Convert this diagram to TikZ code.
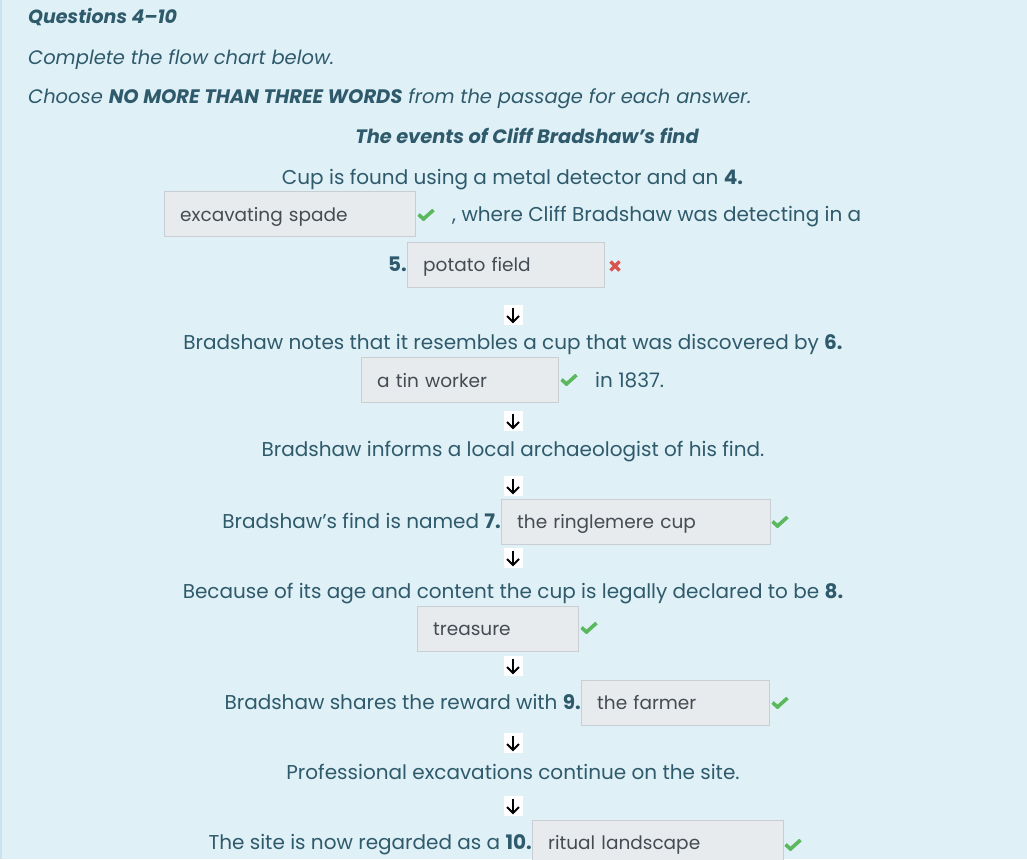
\documentclass[tikz,border=0pt]{standalone}
\usepackage{fontspec}
\setmainfont{Poppins}
\definecolor{bg}{HTML}{DFF0F7}
\definecolor{edge}{HTML}{CBE3EE}
\definecolor{ink}{HTML}{2E5A6B}
\definecolor{boxfill}{HTML}{E8EBEE}
\definecolor{boxline}{HTML}{C9CED3}
\definecolor{anscol}{HTML}{454B52}
\definecolor{okgreen}{HTML}{5CB85C}
\definecolor{badred}{HTML}{D9534F}
\def\ppb{path picture bounding box.center}
\tikzset{
  txt/.style={text=ink, inner sep=0pt, text height=16pt, text depth=2pt,
    font=\fontsize{20}{24}\selectfont},
  head/.style={txt, anchor=west, font=\fontsize{19.5}{24}\selectfont\itshape},
  ansbox/.style={draw=boxline, fill=boxfill, text=anscol, anchor=west,
    minimum height=45pt, inner xsep=16pt, inner ysep=0pt, align=left,
    text height=15.5pt, text depth=1.5pt,
    font=\fontsize{18.5}{22}\selectfont},
  ok/.style={inner sep=0pt, minimum width=17pt, minimum height=11pt,
    path picture={\draw[okgreen, line width=3.6pt, line join=miter, line cap=butt]
      ([xshift=-7.5pt,yshift=0.5pt]\ppb) -- ([xshift=-2.5pt,yshift=-4pt]\ppb) -- ([xshift=7.5pt,yshift=5pt]\ppb);}},
  bad/.style={inner sep=0pt, minimum width=12pt, minimum height=12pt,
    path picture={\draw[badred, line width=3.4pt]
      ([xshift=-4.5pt,yshift=4.5pt]\ppb) -- ([xshift=4.5pt,yshift=-4.5pt]\ppb)
      ([xshift=-4.5pt,yshift=-4.5pt]\ppb) -- ([xshift=4.5pt,yshift=4.5pt]\ppb);}},
  arr/.style={fill=white, inner sep=0pt, minimum width=19pt, minimum height=20pt,
    path picture={\draw[black, line width=2pt]
      ([yshift=7.5pt]\ppb) -- ([yshift=-7pt]\ppb);
      \draw[black, line width=2pt, line join=miter]
      ([xshift=-6pt,yshift=-1pt]\ppb) -- ([yshift=-7pt]\ppb) -- ([xshift=6pt,yshift=-1pt]\ppb);}}
}
\begin{document}
\begin{tikzpicture}[x=1pt,y=-1pt]
\useasboundingbox (0,0) rectangle (1027,859);
\fill[bg] (0,0) rectangle (1027,859);
\draw[edge, line width=1.5pt] (0.75,0) -- (0.75,859);

% heading
\node[head, font=\fontsize{19}{24}\selectfont\itshape\bfseries] (q) at (28,17) {Questions 4–10};
\node[head] (h1) at (28,57) {Complete the flow chart below.};
\node[head] (h2) at (28,96) {Choose \textbf{NO MORE THAN THREE WORDS} from the passage for each answer.};
\node[txt, font=\fontsize{19.4}{24}\selectfont\itshape\bfseries] (title) at (527,136) {The events of Cliff Bradshaw's find};

% step 4-5
\node[txt] (l1) at (512.5,177) {Cup is found using a metal detector and an \textbf{4.}};
\node[ansbox, text width=219pt] (b1) at (164,214) {excavating spade};
\node[ok] (c1) at (426,215) {};
\node[txt, anchor=west] (l1b) at (452,214) {, where Cliff Bradshaw was detecting in a};
\node[txt, anchor=east] (n5) at (407,264.5) {\textbf{5.}};
\node[ansbox, text width=165pt] (b2) at (407,264.5) {potato field};
\node[bad] (x2) at (615,266) {};
\node[arr] (a1) at (513,315) {};

% step 6
\node[txt] (l2) at (513,342) {Bradshaw notes that it resembles a cup that was discovered by \textbf{6.}};
\node[ansbox, text width=165pt] (b3) at (361,380) {a tin worker};
\node[ok] (c3) at (569,380) {};
\node[txt, anchor=west] (l2b) at (595,380) {in 1837.};
\node[arr] (a2) at (513,421) {};

% archaeologist
\node[txt] (l3) at (513,449) {Bradshaw informs a local archaeologist of his find.};
\node[arr] (a3) at (513,486) {};

% step 7
\node[txt, anchor=east] (l4) at (501,521.5) {Bradshaw's find is named \textbf{7.}};
\node[ansbox, text width=237pt] (b4) at (501,521.5) {the ringlemere cup};
\node[ok] (c4) at (780,522) {};
\node[arr] (a4) at (513,558) {};

% step 8
\node[txt] (l5) at (513,591) {Because of its age and content the cup is legally declared to be \textbf{8.}};
\node[ansbox, text width=129pt] (b5) at (417,628.5) {treasure};
\node[ok] (c5) at (589,628) {};
\node[arr] (a5) at (513,666) {};

% step 9
\node[txt, anchor=east] (l6) at (581,702.5) {Bradshaw shares the reward with \textbf{9.}};
\node[ansbox, text width=156pt] (b6) at (581,702.5) {the farmer};
\node[ok] (c6) at (780,703) {};
\node[arr] (a6) at (513,743) {};

% excavations
\node[txt] (l7) at (513,772) {Professional excavations continue on the site.};
\node[arr] (a7) at (513,806) {};

% step 10
\node[txt, anchor=east] (l8) at (532,842.5) {The site is now regarded as a \textbf{10.}};
\node[ansbox, text width=219pt] (b7) at (532,842.5) {ritual landscape};
\node[ok] (c7) at (793,845) {};
\end{tikzpicture}
\end{document}
